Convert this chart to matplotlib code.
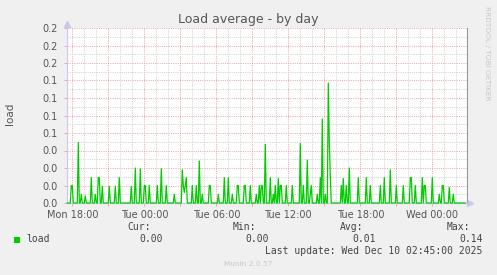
import numpy as np
import matplotlib
matplotlib.use("Agg")
import matplotlib.pyplot as plt
from matplotlib.patches import Rectangle

# ---- data (5-minute samples, index 0 = Mon 18:00) ----
spike_index = [-1, 0, 6, 9, 13, 19, 23, 26, 27, 30, 37, 43, 47,
               59, 63, 68, 72, 73, 77, 85, 89, 94, 102, 110, 111, 112, 113, 114,
               120, 124, 127, 130, 137, 138, 146, 152, 156, 160, 165, 166,
               172, 173, 178, 184, 187, 189, 190, 193, 198, 201, 203, 206,
               208, 209, 214, 220, 228, 231, 235, 238, 239, 245, 248, 250,
               253, 256, 257, 258, 269, 271, 274, 277, 286, 294, 298, 308, 312,
               318, 324, 331, 338, 339, 343, 350, 352, 353, 360, 367, 370,
               371, 377, 381]
spike_value = [0.02, 0.02, 0.069, 0.01, 0.008, 0.029, 0.01, 0.029, 0.029, 0.019, 0.019, 0.019, 0.029,
               0.019, 0.04, 0.039, 0.02, 0.02, 0.02, 0.02, 0.039, 0.02, 0.01, 0.038, 0.02, 0.012, 0.02, 0.029,
               0.02, 0.02, 0.048, 0.01, 0.02, 0.02, 0.01, 0.029, 0.029, 0.01, 0.02, 0.02,
               0.02, 0.02, 0.02, 0.01, 0.02, 0.02, 0.02, 0.067, 0.029, 0.01, 0.02, 0.028,
               0.02, 0.02, 0.02, 0.02, 0.068, 0.02, 0.049, 0.01, 0.02, 0.01, 0.029, 0.096,
               0.01, 0.137, 0.07, 0.03, 0.02, 0.028, 0.02, 0.04, 0.029, 0.029, 0.02, 0.02, 0.029,
               0.038, 0.02, 0.02, 0.029, 0.029, 0.02, 0.029, 0.02, 0.02, 0.029, 0.01, 0.02,
               0.02, 0.018, 0.01]
first_index, last_index = -5, 393

x_tick_hours = [0, 6, 12, 18, 24, 30]
x_tick_labels = ["Mon 18:00", "Tue 00:00", "Tue 06:00", "Tue 12:00", "Tue 18:00", "Wed 00:00"]
y_ticks = [0.00, 0.02, 0.04, 0.06, 0.08, 0.10, 0.12, 0.14, 0.16, 0.18, 0.20]
y_tick_labels = ["0.0", "0.0", "0.0", "0.0", "0.1", "0.1", "0.1", "0.1", "0.2", "0.2", "0.2"]

legend_name = "load"
stats_headers = ["Cur:", "Min:", "Avg:", "Max:"]
stats_values = ["0.00", "0.00", "0.01", "0.14"]
last_update = "Last update: Wed Dec 10 02:45:00 2025"

# build series
idx = np.arange(first_index, last_index + 1)
load = np.zeros(len(idx))
for i, v in zip(spike_index, spike_value):
    load[i - first_index] = v
hours = idx / 12.0

W, H = 497, 275
fig = plt.figure(figsize=(W / 100, H / 100), dpi=100, facecolor="#F0F0F0")
L, R, T, B = 67, 467, 28, 203
ax = fig.add_axes([L / W, 1 - B / H, (R - L) / W, (B - T) / H])
ax.set_facecolor("white")

ax.set_xlim((L - 72.3) / 12, (R - 72.3) / 12)
ax.set_ylim(0, 0.2)

# grid
ax.set_xticks(np.arange(0, 33, 3))
ax.set_xticks(np.arange(-0, 33, 1), minor=True)
ax.set_xticklabels([x_tick_labels[x_tick_hours.index(h)] if h in x_tick_hours else "" for h in np.arange(0, 33, 3)])
ax.set_yticks(y_ticks)
ax.set_yticklabels(y_tick_labels)
ax.set_yticks(np.arange(0.01, 0.2, 0.02), minor=True)

ax.grid(which="minor", color="#C8C8C8", linestyle=(0, (1.2, 1.5)), linewidth=0.6)
ax.grid(which="major", color="#EE9999", linestyle=(0, (1.2, 1.5)), linewidth=0.6)
ax.set_axisbelow(True)

ax.tick_params(which="major", length=2, width=0.6, color="#EE9999",
               labelsize=7, labelcolor="#555555")
ax.tick_params(axis="y", which="major", pad=4.5)
ax.tick_params(axis="x", which="major", pad=3)
ax.tick_params(which="minor", length=0)

for s in ["top"]:
    ax.spines[s].set_visible(False)
ax.spines["left"].set_color("#C8C8F0")
ax.spines["bottom"].set_color("#C8C8F0")
ax.spines["right"].set_color("#999999")
for s in ["left", "bottom", "right"]:
    ax.spines[s].set_linewidth(0.8)

# axis arrows
ax.plot([0], [1.025], marker="^", color="#C8C8F0", markersize=4, transform=ax.transAxes, clip_on=False)
ax.plot([1.008], [0], marker=">", color="#C8C8F0", markersize=4, transform=ax.transAxes, clip_on=False)

ax.plot(hours, load, color="#00CC00", linewidth=0.9, zorder=3, clip_on=False)

def fx(x):
    return x / W

def fy(y):
    return 1 - y / H

fig.text(fx(248), fy(19.5), "Load average - by day", ha="center", va="center",
         fontsize=9, color="#555555")
fig.text(fx(10), fy(114), "load", rotation=90, ha="center", va="center",
         fontsize=7.5, color="#555555")
fig.text(fx(487.5), fy(53), "RRDTOOL / TOBI OETIKER", rotation=270, ha="center", va="center",
         fontsize=5.3, color="#C8C8C8")

fig.patches.append(Rectangle((fx(14), fy(242.5)), 6 / W, 6 / H, transform=fig.transFigure,
                             facecolor="#00CC00", edgecolor="none"))
mono = "DejaVu Sans Mono"
fig.text(fx(26.5), fy(239.5), legend_name, ha="left", va="center", fontsize=7,
         family=mono, color="#444444")
head_x = [127, 233, 340, 447]
for hx, hd, vl in zip(head_x, stats_headers, stats_values):
    fig.text(fx(hx), fy(227.5), hd, ha="left", va="center", fontsize=7, family=mono, color="#444444")
    fig.text(fx(hx + 12), fy(239.5), vl, ha="left", va="center", fontsize=7, family=mono, color="#444444")
fig.text(fx(482), fy(251.5), last_update, ha="right", va="center", fontsize=7,
         family=mono, color="#444444")
fig.text(fx(248), fy(264.5), "Munin 2.0.57", ha="center", va="center", fontsize=5.3,
         color="#C8C8C8")

fig.savefig("out.png", dpi=100, facecolor=fig.get_facecolor())
